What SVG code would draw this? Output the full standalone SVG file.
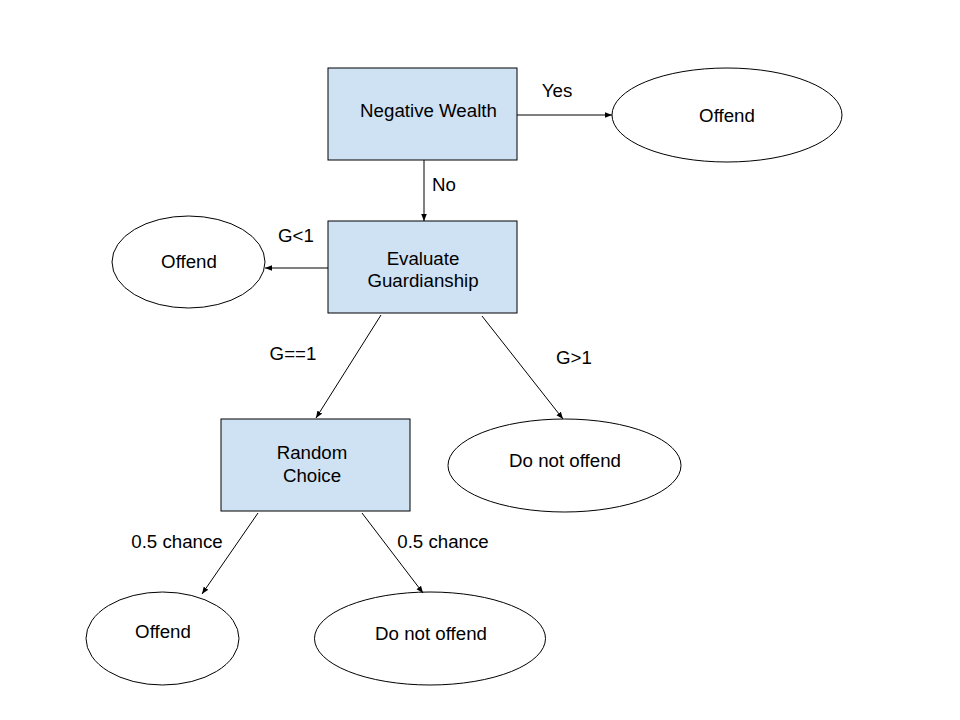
<svg xmlns="http://www.w3.org/2000/svg" width="960" height="720" viewBox="0 0 960 720">
<style>
.box{fill:#cfe2f3;stroke:#000;stroke-width:1}
.ell{fill:#fff;stroke:#000;stroke-width:1}
text{font-family:"Liberation Sans",Arial,sans-serif;font-size:18.7px;fill:#000}
.c{text-anchor:middle}
.ln{stroke:#000;stroke-width:1;fill:none;marker-end:url(#ah)}
</style>
<defs>
<marker id="ah" viewBox="0 0 10 10" refX="10" refY="5" markerWidth="7" markerHeight="7" orient="auto" markerUnits="userSpaceOnUse">
<path d="M0,1 L10,5 L0,9 Z" fill="#000"/>
</marker>
</defs>
<rect width="960" height="720" fill="#fff"/>
<g id="negative-wealth">
<rect class="box" x="328" y="68" width="189" height="92"/>
<text class="c" x="428.5" y="117">Negative Wealth</text>
</g>
<g id="offend-yes">
<ellipse class="ell" cx="727" cy="115" rx="115" ry="47"/>
<text class="c" x="727" y="122">Offend</text>
</g>
<g id="evaluate-guardianship">
<rect class="box" x="328" y="221" width="189" height="92"/>
<text class="c" x="423" y="265">Evaluate</text>
<text class="c" x="423" y="287">Guardianship</text>
</g>
<g id="offend-g-lt-1">
<ellipse class="ell" cx="188.5" cy="262" rx="76.5" ry="46"/>
<text class="c" x="189" y="268">Offend</text>
</g>
<g id="random-choice">
<rect class="box" x="221" y="419" width="189" height="92"/>
<text class="c" x="312" y="459">Random</text>
<text class="c" x="312" y="482">Choice</text>
</g>
<g id="do-not-offend-g-gt-1">
<ellipse class="ell" cx="564.5" cy="465.5" rx="116.5" ry="46.5"/>
<text class="c" x="565" y="467">Do not offend</text>
</g>
<g id="offend-random">
<ellipse class="ell" cx="162.5" cy="638.5" rx="76.5" ry="46.5"/>
<text class="c" x="163" y="638">Offend</text>
</g>
<g id="do-not-offend-random">
<ellipse class="ell" cx="430" cy="638.5" rx="115.5" ry="46.5"/>
<text class="c" x="431" y="640">Do not offend</text>
</g>
<g id="connectors">
<line class="ln" x1="517" y1="115" x2="612" y2="115"/>
<line class="ln" x1="424" y1="160" x2="424" y2="221"/>
<line class="ln" x1="328" y1="268" x2="265" y2="268"/>
<line class="ln" x1="381" y1="315" x2="316" y2="418"/>
<line class="ln" x1="482" y1="316" x2="563" y2="419"/>
<line class="ln" x1="258" y1="513" x2="202" y2="594"/>
<line class="ln" x1="362" y1="513" x2="423" y2="593"/>
<text class="c" x="557" y="97">Yes</text>
<text class="c" x="444" y="191">No</text>
<text class="c" x="296" y="242">G&lt;1</text>
<text class="c" x="293" y="360">G==1</text>
<text class="c" x="574" y="364">G&gt;1</text>
<text class="c" x="177" y="548">0.5 chance</text>
<text class="c" x="443" y="548">0.5 chance</text>
</g>
</svg>
